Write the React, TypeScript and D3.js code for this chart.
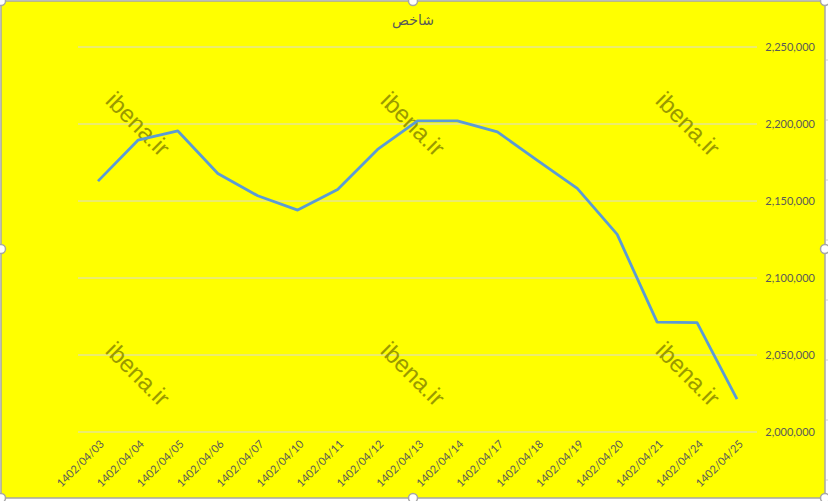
import React from "react";
import * as d3 from "d3";

const dates = [
  "1402/04/03", "1402/04/04", "1402/04/05", "1402/04/06", "1402/04/07",
  "1402/04/10", "1402/04/11", "1402/04/12", "1402/04/13", "1402/04/14",
  "1402/04/17", "1402/04/18", "1402/04/19", "1402/04/20", "1402/04/21",
  "1402/04/24", "1402/04/25",
];
const values = [
  2162900, 2189500, 2195500, 2167900, 2153400,
  2144100, 2157500, 2183500, 2202000, 2202000,
  2194900, 2176400, 2158200, 2128300, 2071300,
  2071000, 2021300,
];
const yTicks = [2000000, 2050000, 2100000, 2150000, 2200000, 2250000];
const title = "شاخص";
const watermark = "ibena.ir";

const W = 828;
const H = 501;

export default function App() {
  const x = d3.scalePoint<string>().domain(dates).range([98, 737]);
  const y = d3.scaleLinear().domain([2000000, 2250000]).range([432, 47]);
  const line = d3
    .line<number>()
    .x((_, i) => x(dates[i]) as number)
    .y((d) => y(d));
  const fmt = d3.format(",");
  const font = "Lato, 'Open Sans', sans-serif";
  const wmPos: [number, number][] = [
    [138, 124], [413, 124], [688, 124],
    [138, 374], [413, 374], [688, 374],
  ];
  const handles: [number, number][] = [
    [1, 1], [413, 1], [825, 1],
    [1, 249], [825, 249],
    [1, 498], [413, 498], [825, 498],
  ];
  return (
    <svg
      width={W}
      height={H}
      style={{ position: "absolute", left: 0, top: 0, display: "block" }}
      fontFamily={font}
    >
      <rect x={0} y={0} width={W} height={H} fill="#ffffff" />
      {[60, 120, 180, 240, 300, 360, 420, 480].map((ty) => (
        <line key={ty} x1={826} x2={828} y1={ty} y2={ty} stroke="#d0d0d0" />
      ))}
      <rect x={1} y={1} width={824} height={497} fill="#ffff00" stroke="#a6a6a6" strokeWidth={1.5} />
      <text x={413} y={25} textAnchor="middle" fontSize={14} fill="#595959" fontFamily="'Noto Sans', 'DejaVu Sans', sans-serif">
        {title}
      </text>
      {yTicks.map((t) => (
        <g key={t}>
          <line x1={78} x2={757} y1={y(t)} y2={y(t)} stroke="#d9d9d9" strokeWidth={1} />
          <text x={815} y={y(t)} dy="0.35em" textAnchor="end" fontSize={11} fill="#595959">
            {fmt(t)}
          </text>
        </g>
      ))}
      {wmPos.map(([cx, cy], i) => (
        <text
          key={i}
          transform={`translate(${cx},${cy}) rotate(45)`}
          textAnchor="middle"
          dy="0.35em"
          fontSize={24}
          fill="#9a9a00"
          fontFamily="'Liberation Sans', Arial, sans-serif"
        >
          {watermark}
        </text>
      ))}
      <path d={line(values) || ""} fill="none" stroke="#5b9bd5" strokeWidth={2.8} strokeLinejoin="round" />
      {dates.map((d) => (
        <text
          key={d}
          transform={`translate(${(x(d) as number) + 4},${442}) rotate(-45)`}
          textAnchor="end"
          dy="0.35em"
          fontSize={11}
          fill="#595959"
        >
          {d}
        </text>
      ))}
      {handles.map(([hx, hy], i) => (
        <circle key={i} cx={hx} cy={hy} r={4.5} fill="#ffffff" stroke="#a6a6a6" strokeWidth={1.5} />
      ))}
    </svg>
  );
}
